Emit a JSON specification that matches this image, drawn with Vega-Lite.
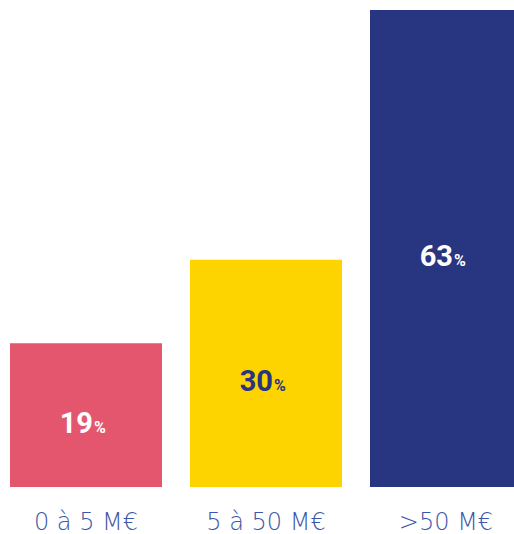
{
  "$schema": "https://vega.github.io/schema/vega-lite/v6.json",
  "autosize": "none",
  "width": 532,
  "height": 477,
  "padding": {"left": 0, "top": 10, "right": 0, "bottom": 47},
  "background": "white",
  "config": {"view": {"stroke": null}},
  "data": {"values": [
    {"cat": "0 à 5 M€", "value": 19},
    {"cat": "5 à 50 M€", "value": 30},
    {"cat": ">50 M€", "value": 63}
  ]},
  "transform": [{"calculate": "datum.value / 2", "as": "mid"}],
  "encoding": {
    "x": {
      "field": "cat", "type": "nominal", "sort": null,
      "scale": {"paddingInner": 0.15556, "paddingOuter": 0.05556},
      "axis": {"title": null, "domain": false, "ticks": false, "labelAngle": 0,
        "labelFont": "DejaVu Sans", "labelFontWeight": 200, "labelFontSize": 24,
        "labelColor": "#3D56AB", "labelPadding": 23}
    }
  },
  "layer": [
    {
      "mark": {"type": "bar"},
      "encoding": {
        "y": {"field": "value", "type": "quantitative", "scale": {"domain": [0, 63], "nice": false}, "axis": null},
        "color": {"field": "cat", "type": "nominal", "sort": null,
          "scale": {"domain": ["0 à 5 M€", "5 à 50 M€", ">50 M€"], "range": ["#E4566E", "#FDD300", "#283580"]},
          "legend": null}
      }
    },
    {
      "mark": {"type": "text", "align": "right", "baseline": "alphabetic", "dx": 7, "dy": 17.5, "font": "Roboto", "fontWeight": "bold", "fontSize": 29},
      "encoding": {
        "y": {"field": "mid", "type": "quantitative", "scale": {"domain": [0, 63], "nice": false}},
        "text": {"field": "value", "type": "quantitative"},
        "color": {"condition": {"test": "datum.cat === '5 à 50 M€'", "value": "#283580"}, "value": "#ffffff"}
      }
    },
    {
      "mark": {"type": "text", "align": "left", "baseline": "alphabetic", "dx": 8, "dy": 17.5, "font": "Roboto", "fontWeight": "bold", "fontSize": 16},
      "encoding": {
        "y": {"field": "mid", "type": "quantitative", "scale": {"domain": [0, 63], "nice": false}},
        "text": {"value": "%"},
        "color": {"condition": {"test": "datum.cat === '5 à 50 M€'", "value": "#283580"}, "value": "#ffffff"}
      }
    }
  ]
}
